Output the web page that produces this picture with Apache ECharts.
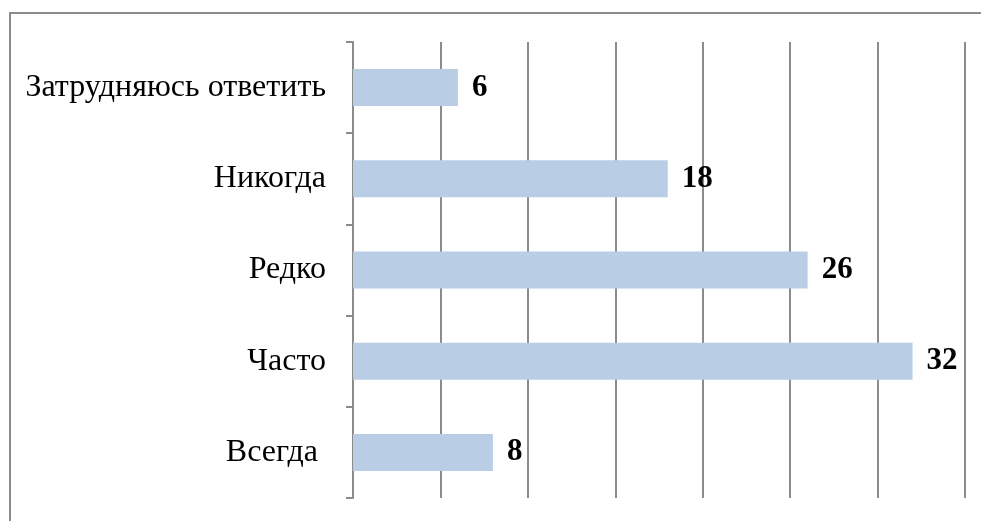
<!DOCTYPE html>
<html>
<head>
<meta charset="utf-8">
<script src="https://cdn.jsdelivr.net/npm/echarts@6/dist/echarts.min.js"></script>
<style>
    html, body { margin: 0; padding: 0; background: #fff; }
    #frame { position: absolute; left: 9px; top: 12px; width: 1000px; height: 600px; border: 2px solid #8c8c8c; box-sizing: border-box; }
    #chart { position: absolute; left: 0; top: 0; width: 981px; height: 521px; }
</style>
</head>
<body>
<div id="frame"></div>
<div id="chart"></div>
<script>
    // категории снизу вверх
    var categories = ['Всегда ', 'Часто', 'Редко', 'Никогда', 'Затрудняюсь ответить'];
    var values = [8, 32, 26, 18, 6];

    var myChart = echarts.init(document.getElementById('chart'));
    var option = {
        animation: false,
        grid: {left: 353, right: 16, top: 42, bottom: 23},
        xAxis: {
            type: 'value',
            min: 0,
            max: 35,
            interval: 5,
            axisLabel: {show: false},
            axisLine: {show: false},
            axisTick: {show: false},
            splitLine: {show: true, lineStyle: {color: '#8c8c8c', width: 2}}
        },
        yAxis: {
            type: 'category',
            data: categories,
            axisLine: {show: true, lineStyle: {color: '#8c8c8c', width: 2}},
            axisTick: {show: true, length: 7, lineStyle: {color: '#8c8c8c', width: 2}},
            axisLabel: {
                margin: 27,
                color: '#000',
                fontFamily: 'Liberation Serif',
                fontSize: 32
            }
        },
        series: [{
            type: 'bar',
            data: values,
            barWidth: 37,
            itemStyle: {color: '#b9cde5'},
            label: {
                show: true,
                position: 'right',
                distance: 14,
                color: '#000',
                fontFamily: 'Liberation Serif',
                fontWeight: 'bold',
                fontSize: 31
            }
        }]
    };
    myChart.setOption(option);
</script>
</body>
</html>
